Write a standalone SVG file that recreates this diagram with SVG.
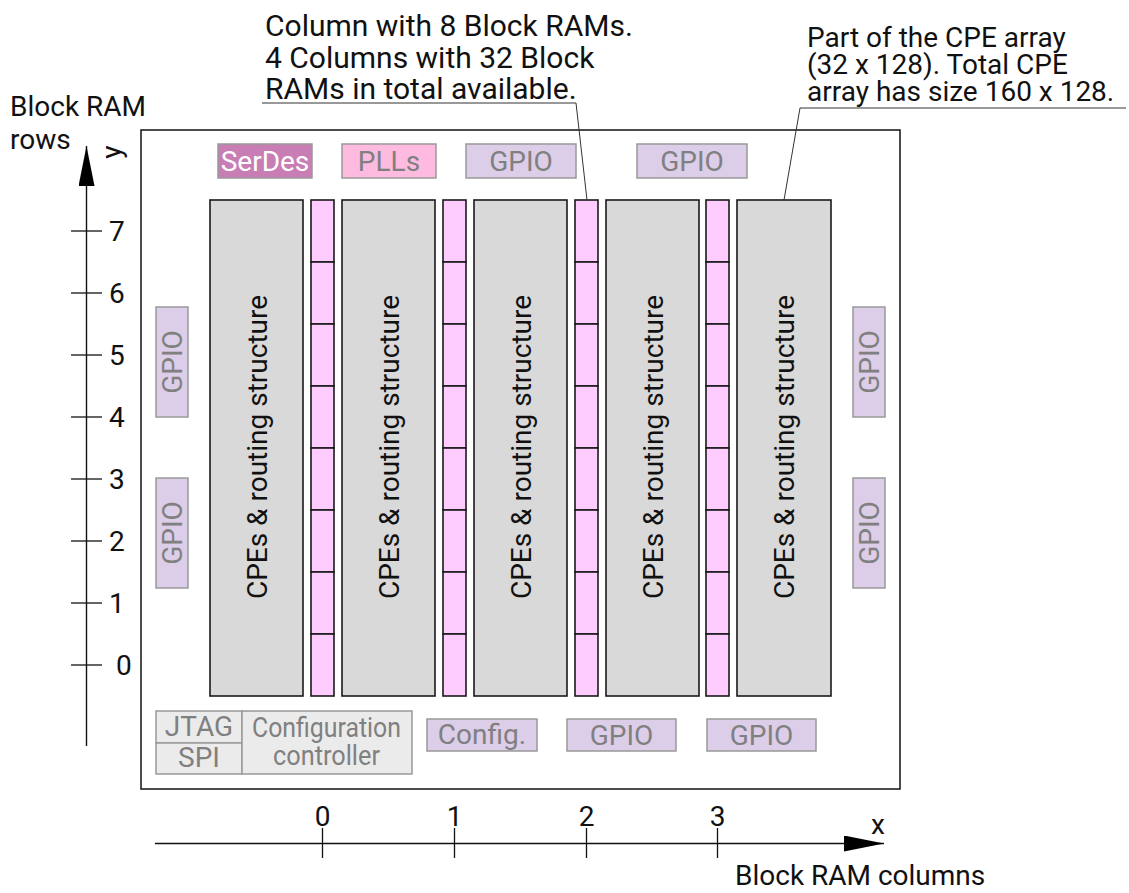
<svg xmlns="http://www.w3.org/2000/svg" width="1129" height="893" viewBox="0 0 1129 893">
<defs>
<style>
text{font-family:Roboto,"Liberation Sans",sans-serif;font-size:28px;fill:#111}
.big{font-size:30px}
.cpe{fill:#d9d9d9;stroke:#1a1a1a;stroke-width:1.6}
.bram{fill:#ffccff;stroke:#1a1a1a;stroke-width:1.6}
.gpio{fill:#dccde8;stroke:#999;stroke-width:1.5}
.grey{fill:#ebebeb;stroke:#999;stroke-width:1.5}
.gt{fill:#808080}
.ln{stroke:#111;stroke-width:1.3;fill:none}
.lead{stroke:#333;stroke-width:1;fill:none}
</style>
<marker id="ah" viewBox="0 0 40 16" refX="40" refY="8" markerWidth="40" markerHeight="16" markerUnits="userSpaceOnUse" orient="auto"><path d="M0,0 L40,8 L0,16 Z" fill="#000"/></marker>
<g id="bramcol">
<rect class="bram" x="0" y="0" width="23" height="62"/>
<rect class="bram" x="0" y="62" width="23" height="62"/>
<rect class="bram" x="0" y="124" width="23" height="62"/>
<rect class="bram" x="0" y="186" width="23" height="62"/>
<rect class="bram" x="0" y="248" width="23" height="62"/>
<rect class="bram" x="0" y="310" width="23" height="62"/>
<rect class="bram" x="0" y="372" width="23" height="62"/>
<rect class="bram" x="0" y="434" width="23" height="62"/>
</g>
</defs>
<rect width="1129" height="893" fill="#fff"/>
<g id="frame"><rect x="141" y="130" width="759" height="659" fill="none" stroke="#111" stroke-width="1.5"/></g>

<g id="top-blocks">
<g id="serdes"><rect x="218" y="144" width="94" height="34" fill="#c87db4" stroke="#999" stroke-width="1.5"/><text x="265" y="171" text-anchor="middle" style="fill:#fff">SerDes</text></g>
<g id="plls"><rect x="342" y="144" width="94" height="34" fill="#ffbbdf" stroke="#999" stroke-width="1.5"/><text class="gt" x="389" y="171" text-anchor="middle">PLLs</text></g>
<g id="gpio-t1"><rect class="gpio" x="466" y="144" width="110" height="34"/><text class="gt" x="521" y="171" text-anchor="middle">GPIO</text></g>
<g id="gpio-t2"><rect class="gpio" x="637" y="144" width="110" height="34"/><text class="gt" x="692" y="171" text-anchor="middle">GPIO</text></g>
</g>

<g id="side-gpio">
<g id="gpio-l1"><rect class="gpio" x="156" y="307" width="32" height="110"/><text class="gt" transform="translate(172,362) rotate(-90)" x="0" y="10" text-anchor="middle">GPIO</text></g>
<g id="gpio-l2"><rect class="gpio" x="156" y="478" width="32" height="110"/><text class="gt" transform="translate(172,533) rotate(-90)" x="0" y="10" text-anchor="middle">GPIO</text></g>
<g id="gpio-r1"><rect class="gpio" x="853" y="307" width="32" height="110"/><text class="gt" transform="translate(869,362) rotate(-90)" x="0" y="10" text-anchor="middle">GPIO</text></g>
<g id="gpio-r2"><rect class="gpio" x="853" y="478" width="32" height="110"/><text class="gt" transform="translate(869,533) rotate(-90)" x="0" y="10" text-anchor="middle">GPIO</text></g>
</g>

<g id="cpe-blocks">
<g id="cpe0"><rect class="cpe" x="210" y="200" width="93" height="496"/><text transform="translate(256.5,447) rotate(-90)" x="0" y="10" text-anchor="middle">CPEs &amp; routing structure</text></g>
<g id="cpe1"><rect class="cpe" x="342" y="200" width="93" height="496"/><text transform="translate(388.5,447) rotate(-90)" x="0" y="10" text-anchor="middle">CPEs &amp; routing structure</text></g>
<g id="cpe2"><rect class="cpe" x="474" y="200" width="93" height="496"/><text transform="translate(520.5,447) rotate(-90)" x="0" y="10" text-anchor="middle">CPEs &amp; routing structure</text></g>
<g id="cpe3"><rect class="cpe" x="606" y="200" width="93" height="496"/><text transform="translate(652.5,447) rotate(-90)" x="0" y="10" text-anchor="middle">CPEs &amp; routing structure</text></g>
<g id="cpe4"><rect class="cpe" x="737" y="200" width="94" height="496"/><text transform="translate(784,447) rotate(-90)" x="0" y="10" text-anchor="middle">CPEs &amp; routing structure</text></g>
</g>

<g id="bram-columns">
<use id="bram0" href="#bramcol" x="311" y="200"/>
<use id="bram1" href="#bramcol" x="443" y="200"/>
<use id="bram2" href="#bramcol" x="575" y="200"/>
<use id="bram3" href="#bramcol" x="706" y="200"/>
</g>

<g id="bottom-blocks">
<g id="jtag-spi">
<rect class="grey" x="156" y="711" width="86" height="32"/>
<rect class="grey" x="156" y="743" width="86" height="31"/>
<text class="gt" x="199" y="736" text-anchor="middle">JTAG</text>
<text class="gt" x="199" y="767" text-anchor="middle">SPI</text>
</g>
<g id="config-ctrl">
<rect class="grey" x="242" y="711" width="170" height="63"/>
<text class="gt" x="326.5" y="737" text-anchor="middle" textLength="149" lengthAdjust="spacingAndGlyphs">Configuration</text>
<text class="gt" x="326.5" y="765" text-anchor="middle" textLength="107" lengthAdjust="spacingAndGlyphs">controller</text>
</g>
<g id="config"><rect class="gpio" x="427" y="719" width="110" height="32"/><text class="gt" x="482" y="744" text-anchor="middle">Config.</text></g>
<g id="gpio-b1"><rect class="gpio" x="567" y="719" width="109" height="32"/><text class="gt" x="621.5" y="745" text-anchor="middle">GPIO</text></g>
<g id="gpio-b2"><rect class="gpio" x="707" y="719" width="109" height="32"/><text class="gt" x="761.5" y="745" text-anchor="middle">GPIO</text></g>
</g>

<g id="y-axis">
<line class="ln" x1="86.5" y1="746" x2="86.5" y2="146" marker-end="url(#ah)" style="stroke-width:1.4"/>
<g class="ln">
<line x1="71" y1="231" x2="102" y2="231"/>
<line x1="71" y1="293" x2="102" y2="293"/>
<line x1="71" y1="355" x2="102" y2="355"/>
<line x1="71" y1="417" x2="102" y2="417"/>
<line x1="71" y1="479" x2="102" y2="479"/>
<line x1="71" y1="541" x2="102" y2="541"/>
<line x1="71" y1="603" x2="102" y2="603"/>
<line x1="71" y1="665" x2="102" y2="665"/>
</g>
<text x="109" y="241">7</text>
<text x="109" y="303">6</text>
<text x="109" y="365">5</text>
<text x="109" y="427">4</text>
<text x="109" y="489">3</text>
<text x="109" y="551">2</text>
<text x="109" y="613">1</text>
<text x="116" y="675">0</text>
<text transform="translate(113,152) rotate(-90)" x="0" y="8" text-anchor="middle">y</text>
<text x="10" y="116">Block RAM</text>
<text x="10" y="149">rows</text>
</g>

<g id="x-axis">
<line class="ln" x1="155" y1="843.5" x2="884" y2="843.5" marker-end="url(#ah)" style="stroke-width:1.4"/>
<g class="ln">
<line x1="322.5" y1="828" x2="322.5" y2="858"/>
<line x1="454.5" y1="828" x2="454.5" y2="858"/>
<line x1="586.5" y1="828" x2="586.5" y2="858"/>
<line x1="717.5" y1="828" x2="717.5" y2="858"/>
</g>
<text x="322.5" y="826" text-anchor="middle">0</text>
<text x="454.5" y="826" text-anchor="middle">1</text>
<text x="586.5" y="826" text-anchor="middle">2</text>
<text x="717.5" y="826" text-anchor="middle">3</text>
<text x="878" y="834" text-anchor="middle">x</text>
<text x="735" y="885">Block RAM columns</text>
</g>

<g id="connectors">
<polyline class="lead" points="262,103 576,103 587,200"/>
<polyline class="lead" points="1126,108 800,108 784,200"/>
</g>

<g id="annotations">
<text class="big" x="265" y="36">Column with 8 Block RAMs.</text>
<text class="big" x="265" y="68">4 Columns with 32 Block</text>
<text class="big" x="265" y="99">RAMs in total available.</text>
<text x="807" y="47">Part of the CPE array</text>
<text x="807" y="74">(32 x 128). Total CPE</text>
<text x="807" y="101">array has size 160 x 128.</text>
</g>
</svg>
